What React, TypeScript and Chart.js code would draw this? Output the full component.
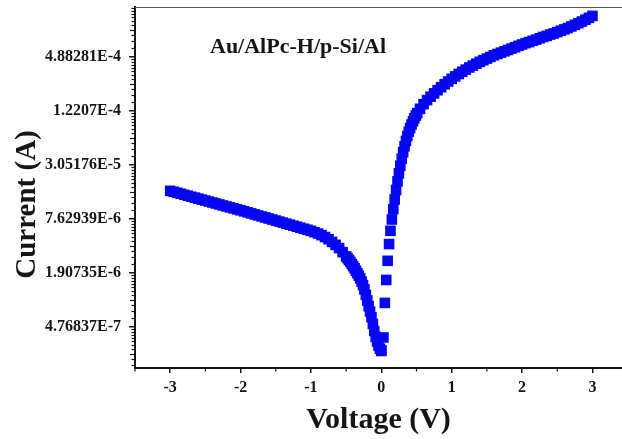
import React, { useEffect, useRef } from "react";
import { Chart, registerables } from "chart.js";

Chart.register(...registerables);

// ---- data ----
const reverseVoltage = [
  -3.0, -2.95, -2.9, -2.85, -2.8, -2.75, -2.7, -2.65, -2.6, -2.55,
  -2.5, -2.45, -2.4, -2.35, -2.3, -2.25, -2.2, -2.15, -2.1, -2.05,
  -2.0, -1.95, -1.9, -1.85, -1.8, -1.75, -1.7, -1.65, -1.6, -1.55,
  -1.5, -1.45, -1.4, -1.35, -1.3, -1.25, -1.2, -1.15, -1.1, -1.05,
  -1.0, -0.95, -0.9, -0.85, -0.8, -0.75, -0.7, -0.65, -0.6, -0.55,
  -0.5,
  -0.48, -0.46, -0.44, -0.42, -0.4, -0.38, -0.36, -0.34, -0.32, -0.3,
  -0.28, -0.26, -0.24, -0.22, -0.2, -0.18, -0.16, -0.14, -0.12, -0.1,
  -0.08, -0.06, -0.04, -0.02, 0.0,
];
const reverseCurrent = [
  1.558e-5, 1.52e-5, 1.482e-5, 1.446e-5, 1.41e-5, 1.375e-5, 1.341e-5, 1.308e-5, 1.276e-5, 1.245e-5,
  1.214e-5, 1.184e-5, 1.155e-5, 1.126e-5, 1.099e-5, 1.071e-5, 1.045e-5, 1.019e-5, 9.942e-6, 9.697e-6,
  9.458e-6, 9.212e-6, 8.972e-6, 8.74e-6, 8.513e-6, 8.291e-6, 8.076e-6, 7.866e-6, 7.661e-6, 7.462e-6,
  7.268e-6, 7.079e-6, 6.895e-6, 6.716e-6, 6.541e-6, 6.371e-6, 6.206e-6, 6.044e-6, 5.887e-6, 5.734e-6,
  5.585e-6, 5.395e-6, 5.211e-6, 4.999e-6, 4.762e-6, 4.505e-6, 4.203e-6, 3.895e-6, 3.584e-6, 3.23e-6,
  2.891e-6,
  2.773e-6, 2.642e-6, 2.517e-6, 2.381e-6, 2.253e-6, 2.131e-6, 2.002e-6, 1.881e-6, 1.767e-6, 1.649e-6,
  1.517e-6, 1.387e-6, 1.241e-6, 1.08e-6, 9.34e-7, 8.075e-7, 7.03e-7, 6.078e-7, 5.111e-7, 4.268e-7,
  3.664e-7, 3.257e-7, 2.935e-7, 2.701e-7, 2.591e-7,
];
const forwardVoltage = [
  0.0, 0.03, 0.05, 0.07, 0.09, 0.11, 0.13, 0.15, 0.17, 0.19,
  0.21, 0.23, 0.25, 0.27, 0.29, 0.31, 0.33, 0.35, 0.37, 0.39,
  0.41, 0.43, 0.45, 0.47, 0.49, 0.51,
  0.55, 0.6, 0.65, 0.7, 0.75, 0.8, 0.85, 0.9, 0.95, 1.0,
  1.05, 1.1, 1.15, 1.2, 1.25, 1.3, 1.35, 1.4, 1.45, 1.5,
  1.55, 1.6, 1.65, 1.7, 1.75, 1.8, 1.85, 1.9, 1.95, 2.0,
  2.05, 2.1, 2.15, 2.2, 2.25, 2.3, 2.35, 2.4, 2.45, 2.5,
  2.55, 2.6, 2.65, 2.7, 2.75, 2.8, 2.85, 2.9, 2.95, 3.0,
];
const forwardCurrent = [
  2.555e-7, 3.614e-7, 8.776e-7, 1.582e-6, 2.587e-6, 3.977e-6, 5.585e-6, 7.472e-6, 9.725e-6, 1.248e-5,
  1.591e-5, 1.986e-5, 2.445e-5, 2.968e-5, 3.554e-5, 4.198e-5, 4.889e-5, 5.617e-5, 6.363e-5, 7.109e-5,
  7.833e-5, 8.572e-5, 9.316e-5, 1.005e-4, 1.078e-4, 1.147e-4,
  1.281e-4, 1.442e-4, 1.6e-4, 1.75e-4, 1.902e-4, 2.067e-4, 2.231e-4, 2.408e-4, 2.581e-4, 2.766e-4,
  2.944e-4, 3.133e-4, 3.312e-4, 3.501e-4, 3.7e-4, 3.885e-4, 4.078e-4, 4.28e-4, 4.462e-4, 4.652e-4,
  4.849e-4, 5.055e-4, 5.233e-4, 5.418e-4, 5.609e-4, 5.807e-4, 6.011e-4, 6.224e-4, 6.443e-4, 6.67e-4,
  6.905e-4, 7.1e-4, 7.35e-4, 7.557e-4, 7.823e-4, 8.099e-4, 8.327e-4, 8.62e-4, 8.862e-4, 9.175e-4,
  9.499e-4, 9.834e-4, 1.018e-3, 1.061e-3, 1.106e-3, 1.153e-3, 1.202e-3, 1.262e-3, 1.325e-3, 1.391e-3,
];

const xTickValues = [-3, -2, -1, 0, 1, 2, 3];
const xTickLabels = ["-3", "-2", "-1", "0", "1", "2", "3"];
const xMinorTicks = [-3.5, -2.5, -1.5, -0.5, 0.5, 1.5, 2.5];
const yTickValues = [4.76837e-7, 1.90735e-6, 7.62939e-6, 3.05176e-5, 1.2207e-4, 4.88281e-4];
const yTickLabels = ["4.76837E-7", "1.90735E-6", "7.62939E-6", "3.05176E-5", "1.2207E-4", "4.88281E-4"];
const yMinorFactors = [1.25, 1.5, 1.75, 2, 2.25, 2.5, 2.75, 3, 3.25, 3.5, 3.75];

const xMin = -3.5;
const xMax = 3.42;
const yMin = 1.65e-7;
const yMax = 1.748e-3;

const xTitle = "Voltage (V)";
const yTitle = "Current (A)";
const sampleLabel = "Au/AlPc-H/p-Si/Al";

const SERIF = '"Liberation Serif", "Times New Roman", serif';
const MARK = "#0606F2";
const INK = "#151515";

const decorPlugin = {
  id: "decor",
  afterDraw(chart: any) {
    const { ctx, chartArea } = chart;
    const xs = chart.scales.x;
    const ys = chart.scales.y;
    ctx.save();
    // top frame line
    ctx.strokeStyle = "#555";
    ctx.lineWidth = 1;
    ctx.beginPath();
    ctx.moveTo(chartArea.left, chartArea.top + 0.5);
    ctx.lineTo(chartArea.right, chartArea.top + 0.5);
    ctx.stroke();

    // minor ticks
    ctx.strokeStyle = INK;
    ctx.lineWidth = 1.2;
    const bases = [yTickValues[0] / 4, ...yTickValues];
    bases.forEach((b) => {
      yMinorFactors.forEach((m) => {
        const v = b * m;
        if (v <= yMin || v >= yMax) return;
        const py = Math.round(ys.getPixelForValue(v)) + 0.5;
        const len = m === 2 ? 5 : 3.5;
        ctx.beginPath();
        ctx.moveTo(chartArea.left - len, py);
        ctx.lineTo(chartArea.left, py);
        ctx.stroke();
      });
    });
    xMinorTicks.forEach((v) => {
      const px = xs.getPixelForValue(v);
      ctx.beginPath();
      ctx.moveTo(px, chartArea.bottom);
      ctx.lineTo(px, chartArea.bottom + 3.5);
      ctx.stroke();
    });

    // y axis title
    ctx.fillStyle = INK;
    ctx.save();
    ctx.translate(35, (chartArea.top + chartArea.bottom) / 2 + 17);
    ctx.rotate(-Math.PI / 2);
    ctx.font = `bold 29px ${SERIF}`;
    ctx.textAlign = "center";
    ctx.textBaseline = "alphabetic";
    ctx.fillText(yTitle, 0, 0);
    ctx.restore();

    // sample label
    ctx.font = `bold 22px ${SERIF}`;
    ctx.textAlign = "left";
    ctx.textBaseline = "alphabetic";
    ctx.fillText(sampleLabel, chartArea.left + 75, chartArea.top + 46);
    ctx.restore();
  },
};

export default function App() {
  const canvasRef = useRef<HTMLCanvasElement | null>(null);

  useEffect(() => {
    const canvas = canvasRef.current;
    if (!canvas) return;
    const reverseData = reverseVoltage.map((v, i) => ({ x: v, y: reverseCurrent[i] }));
    const forwardData = forwardVoltage.map((v, i) => ({ x: v, y: forwardCurrent[i] }));
    const tickFont = { family: SERIF, weight: "bold" as const, size: 16 };

    const chart = new Chart(canvas, {
      type: "scatter",
      data: {
        datasets: [
          {
            label: "reverse",
            data: reverseData,
            pointStyle: "rect",
            pointRadius: 7.5,
            pointBorderWidth: 0,
            backgroundColor: MARK,
            borderColor: MARK,
            showLine: false,
            clip: false,
          },
          {
            label: "forward",
            data: forwardData,
            pointStyle: "rect",
            pointRadius: 7.5,
            pointBorderWidth: 0,
            backgroundColor: MARK,
            borderColor: MARK,
            showLine: false,
            clip: false,
          },
        ],
      },
      options: {
        animation: false,
        responsive: false,
        devicePixelRatio: 1,
        layout: { autoPadding: false, padding: { top: 7, left: 0, right: 0, bottom: 0 } },
        plugins: {
          legend: { display: false },
          tooltip: { enabled: false },
        },
        scales: {
          x: {
            type: "linear",
            min: xMin,
            max: xMax,
            bounds: "data",
            afterBuildTicks: (s: any) => {
              s.ticks = xTickValues.map((v) => ({ value: v }));
            },
            afterFit: (s: any) => {
              s.height = 71;
              s.paddingLeft = 0;
              s.paddingRight = 0;
            },
            ticks: {
              callback: (_v: any, i: number) => xTickLabels[i],
              font: tickFont,
              color: INK,
              padding: 5,
              maxRotation: 0,
              autoSkip: false,
            },
            grid: {
              drawOnChartArea: false,
              drawTicks: true,
              tickLength: 5,
              tickColor: INK,
              lineWidth: 1.5,
            },
            border: { display: true, color: INK, width: 2 },
            title: {
              display: true,
              text: xTitle,
              color: INK,
              font: { family: SERIF, weight: "bold", size: 30, lineHeight: 1 },
              padding: { top: 0, bottom: 4 },
            },
          },
          y: {
            type: "logarithmic",
            min: yMin,
            max: yMax,
            bounds: "data",
            afterBuildTicks: (s: any) => {
              s.ticks = yTickValues.map((v) => ({ value: v }));
            },
            afterFit: (s: any) => {
              s.width = 135;
              s.paddingTop = 0;
              s.paddingBottom = 0;
            },
            ticks: {
              callback: (_v: any, i: number) => yTickLabels[i],
              font: tickFont,
              color: INK,
              padding: 8,
              autoSkip: false,
            },
            grid: {
              drawOnChartArea: false,
              drawTicks: true,
              tickLength: 6,
              tickColor: INK,
              lineWidth: 1.5,
            },
            border: { display: true, color: INK, width: 2 },
            title: { display: false },
          },
        },
      },
      plugins: [decorPlugin],
    });
    return () => chart.destroy();
  }, []);

  return (
    <div style={{ position: "absolute", left: 0, top: 0, width: 622, height: 439, background: "#fff" }}>
      <canvas ref={canvasRef} width={622} height={439} style={{ display: "block" }} />
    </div>
  );
}
